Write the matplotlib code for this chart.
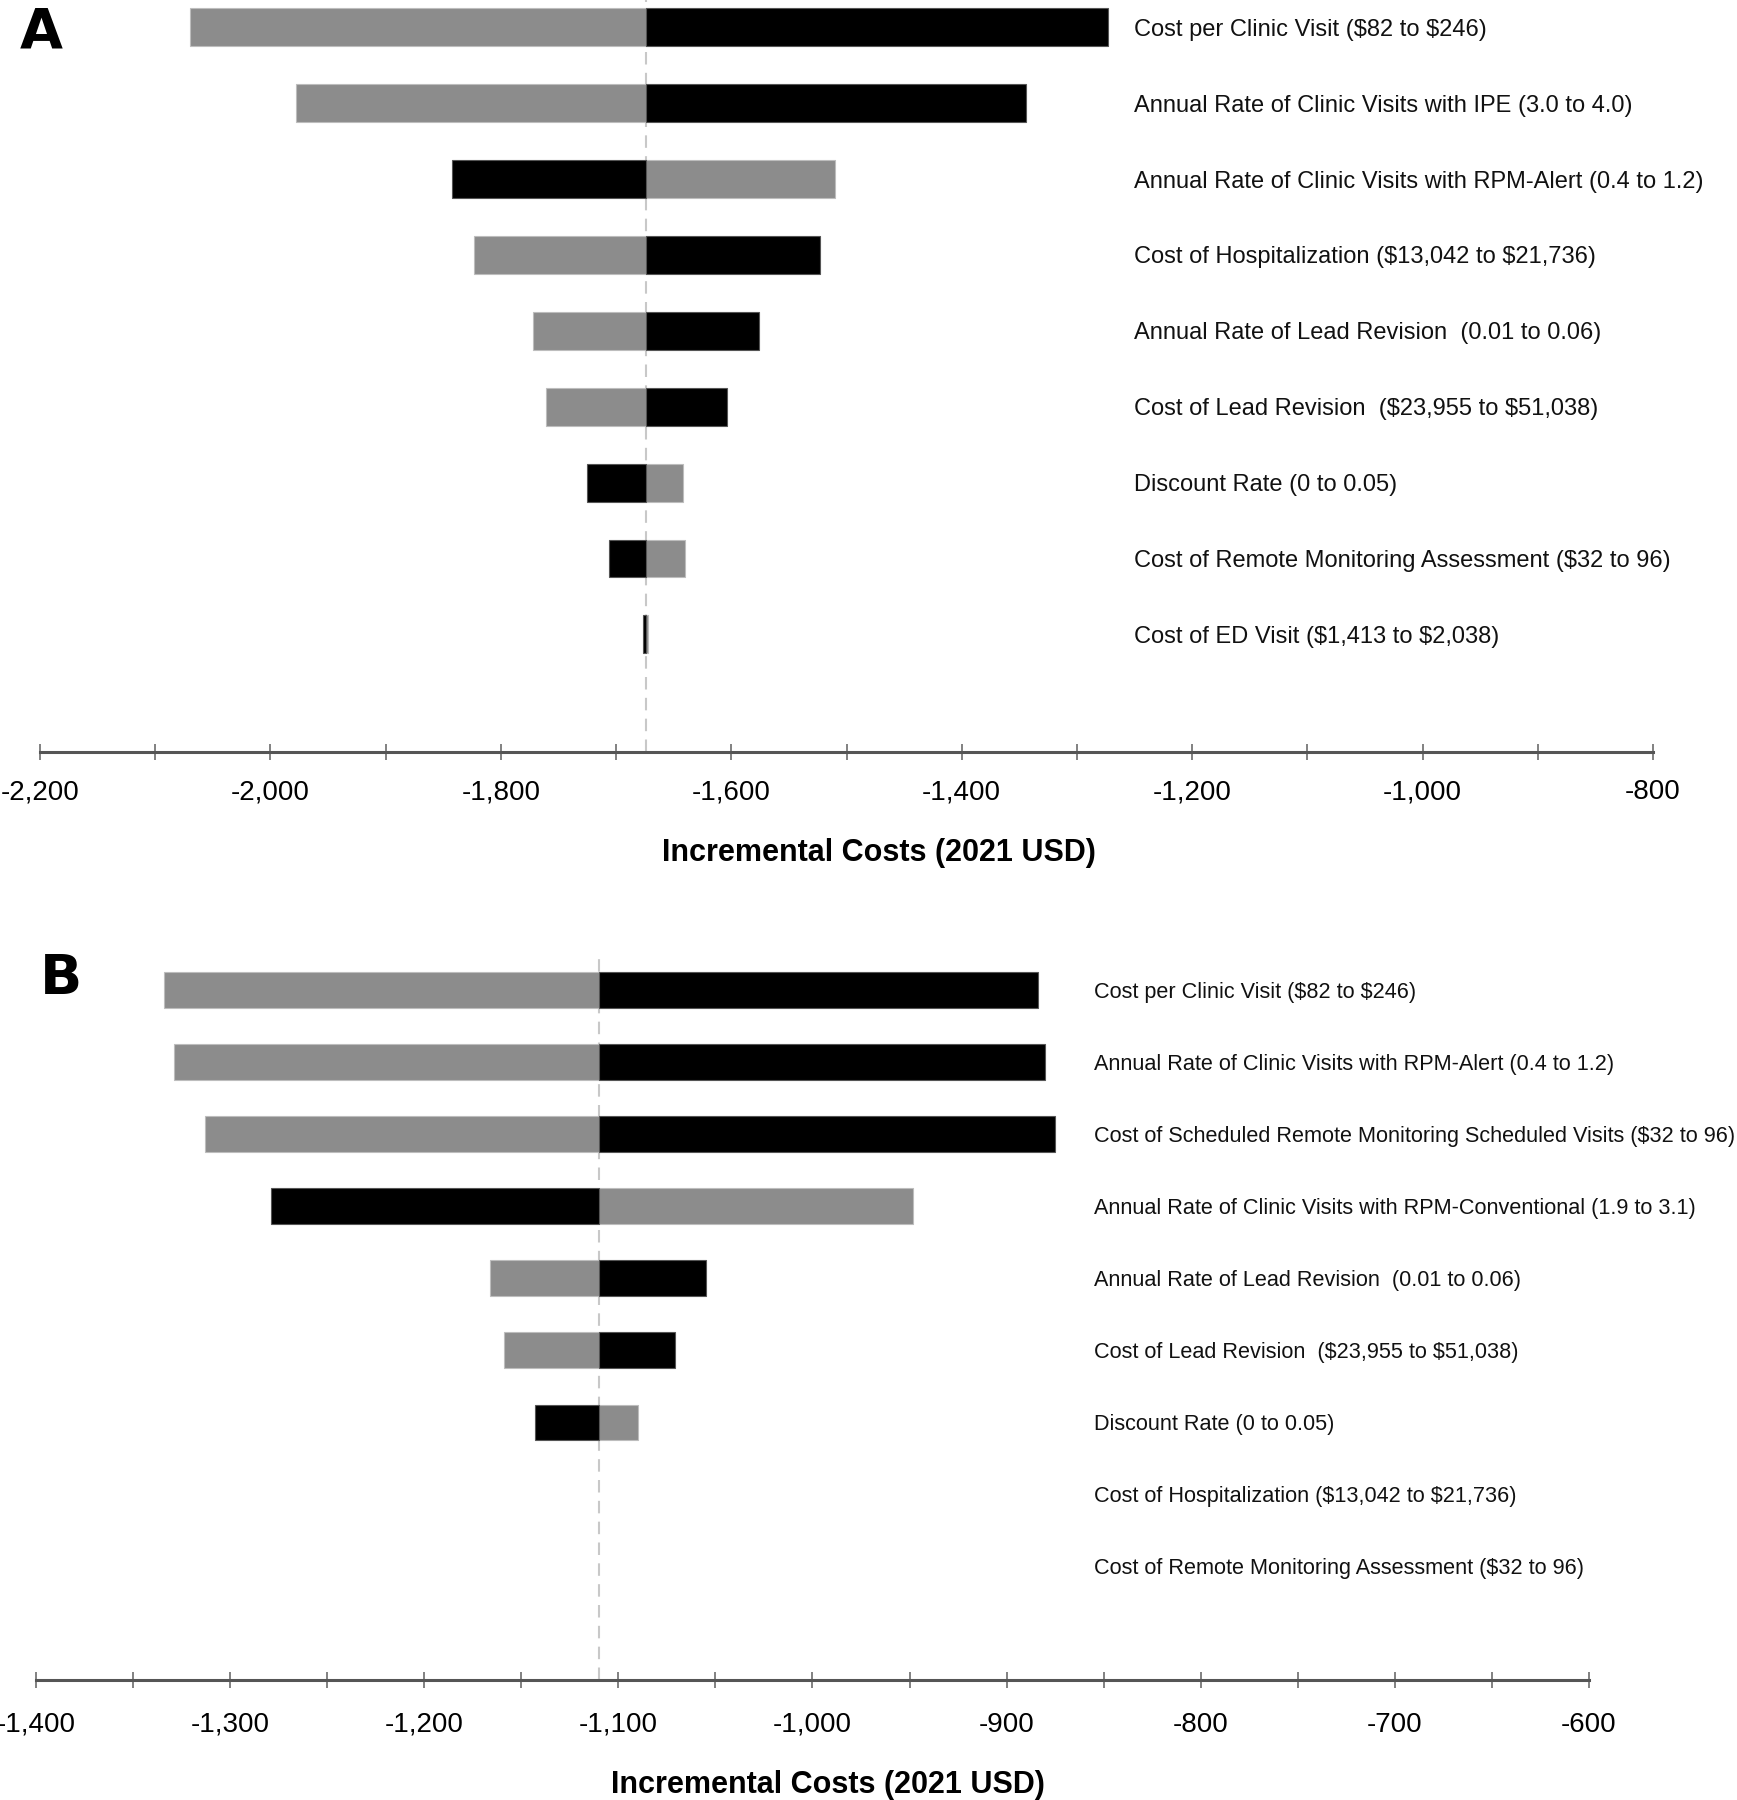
import matplotlib
matplotlib.use("Agg")
import matplotlib.pyplot as plt
from matplotlib.ticker import MultipleLocator, FuncFormatter

plt.rcParams['font.family'] = ['Liberation Sans', 'DejaVu Sans']
plt.rcParams['text.parse_math'] = False

# ---------------- Data ----------------
labels_A = [
    "Cost per Clinic Visit ($82 to $246)",
    "Annual Rate of Clinic Visits with IPE (3.0 to 4.0)",
    "Annual Rate of Clinic Visits with RPM-Alert (0.4 to 1.2)",
    "Cost of Hospitalization ($13,042 to $21,736)",
    "Annual Rate of Lead Revision  (0.01 to 0.06)",
    "Cost of Lead Revision  ($23,955 to $51,038)",
    "Discount Rate (0 to 0.05)",
    "Cost of Remote Monitoring Assessment ($32 to 96)",
    "Cost of ED Visit ($1,413 to $2,038)",
]
base_A = -1674
gray_A = [-2070, -1978, -1510, -1823, -1772, -1761, -1642, -1640, -1672]
black_A = [-1273, -1344, -1842, -1523, -1576, -1604, -1725, -1706, -1677]

labels_B = [
    "Cost per Clinic Visit ($82 to $246)",
    "Annual Rate of Clinic Visits with RPM-Alert (0.4 to 1.2)",
    "Cost of Scheduled Remote Monitoring Scheduled Visits ($32 to 96)",
    "Annual Rate of Clinic Visits with RPM-Conventional (1.9 to 3.1)",
    "Annual Rate of Lead Revision  (0.01 to 0.06)",
    "Cost of Lead Revision  ($23,955 to $51,038)",
    "Discount Rate (0 to 0.05)",
    "Cost of Hospitalization ($13,042 to $21,736)",
    "Cost of Remote Monitoring Assessment ($32 to 96)",
]
base_B = -1110
gray_B = [-1334, -1329, -1313, -948, -1166, -1159, -1090, -1110, -1110]
black_B = [-884, -880, -875, -1279, -1055, -1071, -1143, -1110, -1110]

xlim_A = (-2200, -800)
xlim_B = (-1400, -600)

GRAY = "#8c8c8c"
BLACK = "#000000"

W, H = 1737, 1800
fig = plt.figure(figsize=(W / 100, H / 100), dpi=100)


def px_axes(l, t, r, b):
    return fig.add_axes([l / W, 1 - b / H, (r - l) / W, (b - t) / H])


def draw(ax, labels, base, gray, black, xlim, ylim, major, minor, label_x,
         bar_h, title_xy, label_size, pad):
    y = list(range(len(labels)))
    gw = [g - base for g in gray]
    bw = [b - base for b in black]
    ax.barh(y, gw, left=base, height=bar_h, color=GRAY, edgecolor="#bdbdbd",
            linewidth=[0.8 if w != 0 else 0 for w in gw], zorder=3)
    ax.barh(y, bw, left=base, height=bar_h, color=BLACK, edgecolor="#555555",
            linewidth=[0.8 if w != 0 else 0 for w in bw], zorder=3)
    ax.axvline(base, color="#c8c8c8", linestyle=(0, (6, 4)), linewidth=1.5, zorder=2)
    ax.set_xlim(*xlim)
    ax.set_ylim(*ylim)
    for yi, lab in zip(y, labels):
        ax.text(label_x, yi, lab, transform=ax.get_yaxis_transform(),
                ha="left", va="center_baseline", fontsize=label_size, color="#111111")
    for s in ("top", "left", "right"):
        ax.spines[s].set_visible(False)
    ax.spines["bottom"].set_color("#555555")
    ax.spines["bottom"].set_linewidth(2.2)
    ax.set_yticks([])
    ax.xaxis.set_major_locator(MultipleLocator(major))
    ax.xaxis.set_minor_locator(MultipleLocator(minor))
    ax.xaxis.set_major_formatter(FuncFormatter(lambda v, p: f"{int(round(v)):,}"))
    ax.tick_params(axis="x", which="both", direction="inout", length=12, width=1.3,
                   color="#777777", labelsize=20, pad=pad)
    ax.set_xlabel("Incremental Costs (2021 USD)", fontsize=22, fontweight="bold")
    ax.xaxis.set_label_coords(*title_xy)
    ax.set_facecolor("none")


axA = px_axes(40, 0, 1653, 752)
draw(axA, labels_A, base_A, gray_A, black_A, xlim_A, (9.55, -0.36),
     200, 100, 0.678, 0.5, (0.52, -0.115), 17, 13.5)

axB = px_axes(36, 954, 1589, 1680)
draw(axB, labels_B, base_B, gray_B, black_B, xlim_B, (9.58, -0.5),
     100, 50, 0.681, 0.49, (0.51, -0.124), 15.6, 17)

fig.text(20 / W, 1 - 32 / H, "A", fontsize=40, fontweight="bold",
         family=["DejaVu Sans"], va="center", ha="left")
fig.text(40 / W, 1 - 979 / H, "B", fontsize=40, fontweight="bold",
         family=["DejaVu Sans"], va="center", ha="left")

fig.savefig("out.png", dpi=100, facecolor="white")
